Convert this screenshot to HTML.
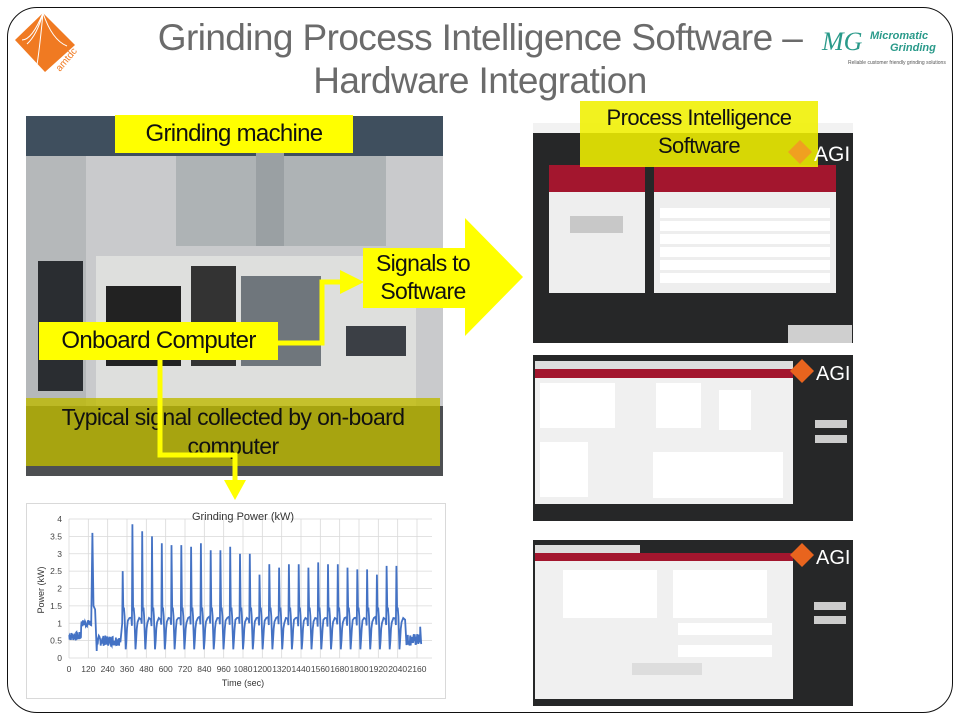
<!DOCTYPE html>
<html><head><meta charset="utf-8"><style>
body{margin:0;width:960px;height:720px;background:#fff;position:relative;overflow:hidden;font-family:"Liberation Sans",sans-serif}
.abs{position:absolute}
.yl{background:#ffff00;color:#111;text-align:center;position:absolute}
.title{position:absolute;left:0;width:960px;text-align:center;color:#6b6b6b;font-size:37px;letter-spacing:-0.6px}
</style></head><body>
<div class="abs" style="left:7px;top:7px;width:944px;height:704px;border:1.3px solid #111;border-radius:30px"></div>
<div class="title" style="top:17px;left:0px">Grinding Process Intelligence Software –</div>
<div class="title" style="top:60px">Hardware Integration</div>
<svg class="abs" style="left:12px;top:10px" width="70" height="70">
<polygon points="31,3 63,35 33,62 3,30" fill="#f07a22"/>
<path d="M31,3 Q20,30 10,30 M31,3 Q28,35 25,55 M31,3 Q40,30 55,36 M31,3 Q25,25 15,34" stroke="#fff" stroke-width="1" fill="none"/>
<text x="48" y="62" font-size="10" fill="#f07a22" transform="rotate(-50 48 62)" font-family="Liberation Sans">amtdc</text>
</svg>
<svg class="abs" style="left:820px;top:22px" width="132" height="45">
<text x="2" y="28" font-size="26" fill="#2a9a8a" font-style="italic" font-family="Liberation Serif">MG</text>
<text x="50" y="17" font-size="11" fill="#2a9a8a" font-weight="bold" font-style="italic">Micromatic</text>
<text x="70" y="29" font-size="11" fill="#2a9a8a" font-weight="bold" font-style="italic">Grinding</text>
<text x="28" y="42" font-size="5" fill="#555">Reliable customer friendly grinding solutions</text>
</svg>

<!-- machine photo -->
<div class="abs" style="left:26px;top:116px;width:417px;height:360px;background:#c9cacc;overflow:hidden">
 <div class="abs" style="left:0;top:0;width:417px;height:40px;background:#3f4f5e"></div>
 <div class="abs" style="left:0;top:40px;width:60px;height:320px;background:#b5b8ba"></div>
 <div class="abs" style="left:150px;top:40px;width:210px;height:90px;background:#aeb3b5"></div>
 <div class="abs" style="left:230px;top:20px;width:28px;height:110px;background:#9aa0a3"></div>
 <div class="abs" style="left:70px;top:140px;width:320px;height:170px;background:#dedfdd"></div>
 <div class="abs" style="left:12px;top:145px;width:45px;height:130px;background:#2a2d31"></div>
 <div class="abs" style="left:80px;top:170px;width:75px;height:80px;background:#222"></div>
 <div class="abs" style="left:165px;top:150px;width:45px;height:100px;background:#333"></div>
 <div class="abs" style="left:215px;top:160px;width:80px;height:90px;background:#6f767c"></div>
 <div class="abs" style="left:320px;top:210px;width:60px;height:30px;background:#3b3f45"></div>
 <div class="abs" style="left:0;top:290px;width:417px;height:70px;background:#4d4f52"></div>
</div>
<div class="abs" style="left:26px;top:398px;width:414px;height:68px;background:rgba(190,185,0,0.8)"></div>
<div class="abs" style="left:26px;top:403px;width:414px;text-align:center;font-size:23px;line-height:29px;color:#111;letter-spacing:-0.6px">Typical signal collected by on-board<br>computer</div>

<svg class="abs" style="left:0;top:0" width="960" height="720">
 <polyline points="275,343 322,343 322,282 345,282" stroke="#ffff00" stroke-width="5" fill="none"/>
 <polygon points="340,270 364,282 340,294" fill="#ffff00"/>
 <polyline points="160,360 160,455 235,455 235,482" stroke="#ffff00" stroke-width="5" fill="none"/>
 <polygon points="224,480 246,480 235,500" fill="#ffff00"/>
 <polygon points="363,248 465,248 465,218 523,277 465,336 465,308 363,308" fill="#ffff00"/>
</svg>
<div class="yl" style="left:115px;top:115px;width:238px;height:38px;font-size:24px;line-height:38px;letter-spacing:-0.7px">Grinding machine</div>
<div class="yl" style="left:39px;top:322px;width:239px;height:38px;font-size:24px;line-height:38px;letter-spacing:-0.7px">Onboard Computer</div>
<div class="abs" style="left:360px;top:249px;width:126px;text-align:center;font-size:23px;line-height:28px;letter-spacing:-0.7px;color:#111">Signals to<br>Software</div>

<!-- chart -->
<div class="abs" style="left:26px;top:503px;width:418px;height:194px;border:1px solid #d9d9d9;background:#fff"></div>
<svg class="abs" style="left:0;top:0" width="960" height="720" font-family="Liberation Sans">
 <g id="grid" stroke="#d9d9d9" stroke-width="0.8"></g>
 <text x="243" y="520" font-size="11" text-anchor="middle" fill="#333">Grinding Power (kW)</text>
 <text x="243" y="686" font-size="9" text-anchor="middle" fill="#333">Time (sec)</text>
 <text x="44" y="590" font-size="9" text-anchor="middle" fill="#333" transform="rotate(-90 44 590)">Power (kW)</text>
 <g id="labs" font-size="8.5" fill="#444"></g>
 <path id="sig" stroke="#4472c4" stroke-width="1.8" fill="none"/>
</svg>

<!-- screenshot 1 -->
<div class="abs" style="left:533px;top:123px;width:320px;height:220px;background:#262728"></div>
<div class="abs" style="left:533px;top:123px;width:320px;height:10px;background:#f2f2f2"></div>
<div class="abs" style="left:549px;top:165px;width:96px;height:128px;background:#eee"></div>
<div class="abs" style="left:549px;top:165px;width:96px;height:27px;background:#a3162e"></div>
<div class="abs" style="left:654px;top:165px;width:182px;height:128px;background:#eee"></div>
<div class="abs" style="left:654px;top:165px;width:182px;height:27px;background:#a3162e"></div>
<div class="abs" style="left:570px;top:216px;width:53px;height:17px;background:#c8c8c8"></div>
<div class="abs" style="left:660px;top:208px;width:170px;height:76px;background:repeating-linear-gradient(#fff 0 10px,#eee 10px 13px)"></div>
<div class="abs" style="left:788px;top:325px;width:64px;height:18px;background:#cfcfcf"></div>
<div class="abs" style="left:580px;top:101px;width:238px;height:66px;background:rgba(240,240,0,0.88)"></div>
<div class="abs" style="left:580px;top:104px;width:238px;text-align:center;font-size:22px;line-height:28px;color:#111;letter-spacing:-0.6px">Process Intelligence<br>Software</div>
<svg class="abs" style="left:788px;top:138px" width="64" height="28"><polygon points="12,2 24,14 12,26 0,14" fill="#f0a020"/><text x="26" y="23" font-size="21" fill="#fff">AGI</text></svg>

<!-- screenshot 2 -->
<div class="abs" style="left:533px;top:355px;width:320px;height:166px;background:#262728"></div>
<div class="abs" style="left:535px;top:361px;width:258px;height:8px;background:#ddd"></div>
<div class="abs" style="left:535px;top:369px;width:258px;height:9px;background:#a3162e"></div>
<div class="abs" style="left:535px;top:378px;width:258px;height:126px;background:#f0f0f0"></div>
<div class="abs" style="left:540px;top:383px;width:75px;height:45px;background:#fff"></div>
<div class="abs" style="left:540px;top:442px;width:48px;height:55px;background:#fff"></div>
<div class="abs" style="left:656px;top:383px;width:45px;height:45px;background:#fff"></div>
<div class="abs" style="left:719px;top:390px;width:32px;height:40px;background:#fff"></div>
<div class="abs" style="left:653px;top:452px;width:130px;height:46px;background:#fff"></div>
<div class="abs" style="left:815px;top:420px;width:32px;height:8px;background:#ccc"></div>
<div class="abs" style="left:815px;top:435px;width:32px;height:8px;background:#ccc"></div>
<svg class="abs" style="left:790px;top:357px" width="64" height="28"><polygon points="12,2 24,14 12,26 0,14" fill="#e8641e"/><text x="26" y="23" font-size="20" fill="#fff">AGI</text></svg>

<!-- screenshot 3 -->
<div class="abs" style="left:533px;top:540px;width:320px;height:166px;background:#262728"></div>
<div class="abs" style="left:535px;top:545px;width:105px;height:8px;background:#ddd"></div>
<div class="abs" style="left:535px;top:553px;width:258px;height:8px;background:#a3162e"></div>
<div class="abs" style="left:535px;top:561px;width:258px;height:138px;background:#f0f0f0"></div>
<div class="abs" style="left:563px;top:570px;width:94px;height:48px;background:#fff"></div>
<div class="abs" style="left:673px;top:570px;width:94px;height:48px;background:#fff"></div>
<div class="abs" style="left:678px;top:623px;width:94px;height:12px;background:#fff"></div>
<div class="abs" style="left:678px;top:645px;width:94px;height:12px;background:#fff"></div>
<div class="abs" style="left:632px;top:663px;width:70px;height:12px;background:#ddd"></div>
<div class="abs" style="left:814px;top:602px;width:32px;height:8px;background:#ccc"></div>
<div class="abs" style="left:814px;top:616px;width:32px;height:8px;background:#ccc"></div>
<svg class="abs" style="left:790px;top:541px" width="64" height="28"><polygon points="12,2 24,14 12,26 0,14" fill="#e8641e"/><text x="26" y="23" font-size="20" fill="#fff">AGI</text></svg>

<script>
var x0=69,x1=417,y0=658,yt=519,ns="http://www.w3.org/2000/svg";
function X(t){return x0+(x1-x0)*t/2160}
function Y(v){return y0-(y0-yt)*v/4}
var g=document.getElementById('grid'),L=document.getElementById('labs');
function el(p,tag,a,txt){var e=document.createElementNS(ns,tag);for(var k in a)e.setAttribute(k,a[k]);if(txt)e.textContent=txt;p.appendChild(e)}
for(var v=0;v<=8;v++){var y=Y(v/2);el(g,'line',{x1:x0,x2:432,y1:y,y2:y});el(L,'text',{x:62,y:y+3,'text-anchor':'end'},String(v/2))}
for(var t=0;t<=2160;t+=120){var x=X(t);el(g,'line',{x1:x,x2:x,y1:yt,y2:y0});el(L,'text',{x:x,y:y0+14,'text-anchor':'middle'},String(t))}
var pk=[2.5,3.85,3.65,3.5,3.3,3.25,3.25,3.2,3.3,3.1,3.1,3.2,3.0,3.0,2.4,2.7,2.6,2.7,2.7,2.6,2.75,2.7,2.7,2.6,2.55,2.55,2.4,2.65,2.65];
var d='',s=7;function r(){s=(s*9301+49297)%233280;return s/233280}
function P(t,v){d+=(d?'L':'M')+X(t).toFixed(1)+','+Y(v).toFixed(1)}
for(t=0;t<75;t+=2)P(t,0.5+r()*0.25);
for(;t<140;t+=2)P(t,0.9+r()*0.2);
P(145,3.6);P(152,1.5);P(162,1.4);P(172,0.2);
for(t=175;t<320;t+=2)P(t,0.35+r()*0.3);
var per=(2090-330)/29;
for(var i=0;i<29;i++){var b=330+i*per;P(b,0.9+r()*0.1);P(b+3,pk[i]);P(b+7,1.35);P(b+11,1.45);P(b+15,1.2);P(b+22,0.25);P(b+26,0.5);P(b+30,0.85);P(b+35,1.0+r()*0.1);P(b+45,1.15);P(b+per-4,1.1+r()*0.1)}
for(t=2095;t<2180;t+=2)P(t,0.35+r()*0.35);P(2180,0.9);P(2186,0.4);
document.getElementById('sig').setAttribute('d',d);
</script>
</body></html>
